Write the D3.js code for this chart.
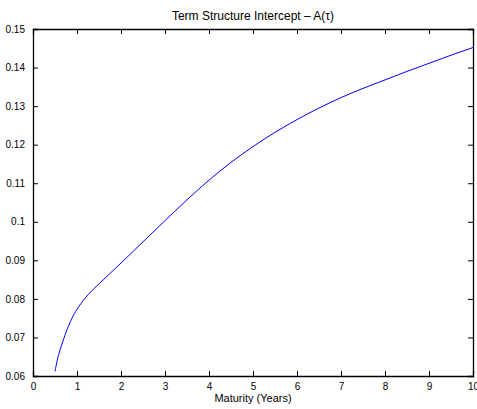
<!DOCTYPE html>
<html>
<meta charset="utf-8">
<style>
body { margin: 0; background: #fff; }
text { font-family: "Liberation Sans", Arial, sans-serif; fill: #000; }
</style>
<head>
<script src="https://d3js.org/d3.v7.min.js"></script>
</head>
<body>
<script>
// maturity (years) and intercept A(tau)
var maturity = [0.5, 0.55, 0.6, 0.7, 0.8, 0.9, 1.0, 1.2, 1.5, 2.0, 2.5, 3.0, 3.5, 4.0, 4.5, 5.0, 5.5, 6.0, 6.5, 7.0, 7.5, 8.0, 8.5, 9.0, 9.5, 10];
var intercept = [0.0612, 0.0640, 0.0662, 0.0697, 0.0728, 0.0753, 0.0773, 0.0804, 0.0839, 0.0893, 0.0948, 0.1003, 0.1057, 0.1108, 0.1154, 0.1195, 0.1232, 0.1265, 0.1295, 0.1322, 0.1346, 0.1368, 0.1390, 0.1411, 0.1432, 0.1452];
var xTicks = [0, 1, 2, 3, 4, 5, 6, 7, 8, 9, 10];
var yTicks = [0.06, 0.07, 0.08, 0.09, 0.1, 0.11, 0.12, 0.13, 0.14, 0.15];

var margin = {top: 29, right: 4, bottom: 33, left: 33},
    W = 477, H = 409,
    width = W - margin.left - margin.right,
    height = H - margin.top - margin.bottom;

var svg = d3.select("body").append("svg")
    .attr("width", W)
    .attr("height", H);

var g = svg.append("g")
    .attr("transform", "translate(" + margin.left + "," + margin.top + ")");

var x = d3.scaleLinear().domain([0, 10]).range([0, width]);
var y = d3.scaleLinear().domain([0.06, 0.15]).range([height, 0]);

var fmt = function(d) { return String(+d.toFixed(2)); };
var tl = 5;

// axes with inward ticks, on all four sides
g.append("g").attr("transform", "translate(0," + height + ")")
    .call(d3.axisBottom(x).tickValues(xTicks).tickSize(-tl).tickPadding(tl + 2).tickFormat(fmt));
g.append("g")
    .call(d3.axisLeft(y).tickValues(yTicks).tickSize(-tl).tickPadding(tl + 3).tickFormat(fmt));
g.append("g")
    .call(d3.axisTop(x).tickValues(xTicks).tickSize(-tl).tickFormat(""));
g.append("g").attr("transform", "translate(" + width + ",0)")
    .call(d3.axisRight(y).tickValues(yTicks).tickSize(-tl).tickFormat(""));

g.selectAll(".domain").attr("stroke", "#000").attr("stroke-width", 1.3);
g.selectAll(".tick line").attr("stroke", "#000");
g.selectAll(".tick text").style("font-size", "10px").attr("fill", "#000");

var data = maturity.map(function(m, i) { return {m: m, a: intercept[i]}; });

var line = d3.line()
    .x(function(d) { return x(d.m); })
    .y(function(d) { return y(d.a); })
    .curve(d3.curveNatural);

g.append("path")
    .datum(data)
    .attr("d", line)
    .attr("fill", "none")
    .attr("stroke", "#0000ff")
    .attr("stroke-width", 1);

svg.append("text")
    .attr("x", margin.left + width / 2)
    .attr("y", 20)
    .attr("text-anchor", "middle")
    .style("font-size", "12px")
    .text("Term Structure Intercept \u2013 A(\u03c4)");

svg.append("text")
    .attr("x", margin.left + width / 2)
    .attr("y", 402)
    .attr("text-anchor", "middle")
    .style("font-size", "11px")
    .text("Maturity (Years)");
</script>
</body>
</html>
